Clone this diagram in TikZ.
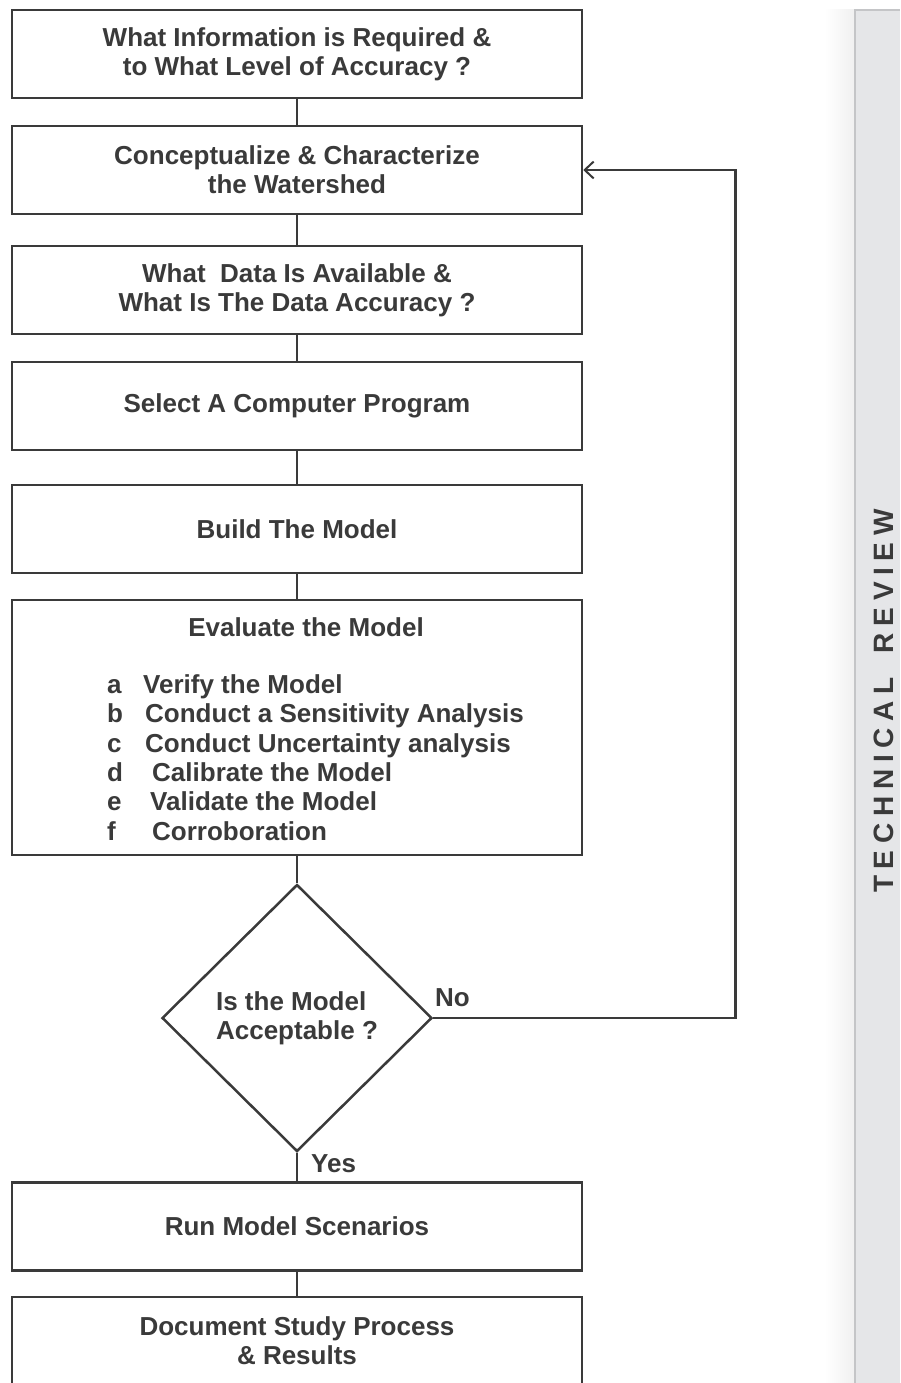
\documentclass[tikz,border=0pt]{standalone}
\usepackage{fontspec}
\setmainfont{Liberation Sans}
\usetikzlibrary{shapes.geometric}
\usetikzlibrary{arrows.meta}
\definecolor{ink}{HTML}{3A3A3A}
\definecolor{panel}{HTML}{E5E6E8}
\definecolor{paneledge}{HTML}{C4C5C7}

\begin{document}
\begin{tikzpicture}[x=1pt, y=-1pt,
  stepbox/.style={draw=ink, line width=2.5pt, fill=white, minimum width=570pt, minimum height=88pt,
    align=center, text=ink, font=\bfseries\fontsize{26}{29}\selectfont},
  decision/.style={diamond, draw=ink, line width=2.5pt, fill=white, minimum width=270pt, minimum height=267pt,
    inner sep=0pt, align=left, text=ink, font=\bfseries\fontsize{26}{29}\selectfont},
  label/.style={text=ink, inner sep=0pt, font=\bfseries\fontsize{26}{29}\selectfont},
  link/.style={draw=ink, line width=2.5pt}]
\def\cx{297}
\useasboundingbox (0, 0) rectangle (900, 1383);

% side panel
\shade[left color=white, right color=black!6] (825, 10) rectangle (855, 1383);
\fill[panel] (855, 10) rectangle (900, 1383);
\draw[paneledge, line width=1.5pt] (855, 1383) -- (855, 10) -- (900, 10);
\node[rotate=90, text=ink, font=\bfseries\fontsize{28}{30}\selectfont\addfontfeatures{LetterSpace=24}] (side) at (884, 701) {TECHNICAL\hspace{24pt}REVIEW};

\node[stepbox] (info) at (\cx, 54) {What Information is Required \&\\to What Level of Accuracy ?};
\node[stepbox] (concept) at (\cx, 170) {Conceptualize \& Characterize\\the Watershed};
\node[stepbox] (data) at (\cx, 290) {What\ \ Data Is Available \&\\What Is The Data Accuracy ?};
\node[stepbox] (prog) at (\cx, 406) {Select A Computer Program};
\node[stepbox] (build) at (\cx, 529) {Build The Model};
\node[stepbox, minimum height=255pt] (eval) at (\cx, 727.5) {};
\node[label] (evaltitle) at (306, 627) {Evaluate the Model};
\foreach \y/\l/\x/\t in {691/a/143/Verify the Model, 720/b/145/Conduct a Sensitivity Analysis,
  750/c/145/Conduct Uncertainty analysis, 779/d/152/Calibrate the Model,
  808/e/150/Validate the Model, 838/f/152/Corroboration} {
  \node[label, anchor=mid west] (tag\l) at (107, \y) {\l};
  \node[label, anchor=mid west] (item\l) at (\x, \y) {\t};
}
\node[decision] (accept) at (\cx, 1018) {Is the Model\\Acceptable ?};
\node[stepbox] (run) at (\cx, 1226.5) {Run Model Scenarios};
\node[stepbox] (report) at (\cx, 1341) {Document Study Process\\\& Results};

\foreach \a/\b in {info/concept, concept/data, data/prog, prog/build, build/eval, eval/accept, accept/run, run/report}
  \draw[link] (\a) -- (\b);

%\draw[link] (accept.east) -- (concept.east);
\draw[link, -{Straight Barb[length=9pt, width=17pt, line width=2pt]}] (accept.east) -- ++(302, 0) |- (concept.east);
\node[label, anchor=west] (no) at (435, 998) {No};
\node[label, anchor=west] (yes) at (311, 1164) {Yes};
\end{tikzpicture}
\end{document}
